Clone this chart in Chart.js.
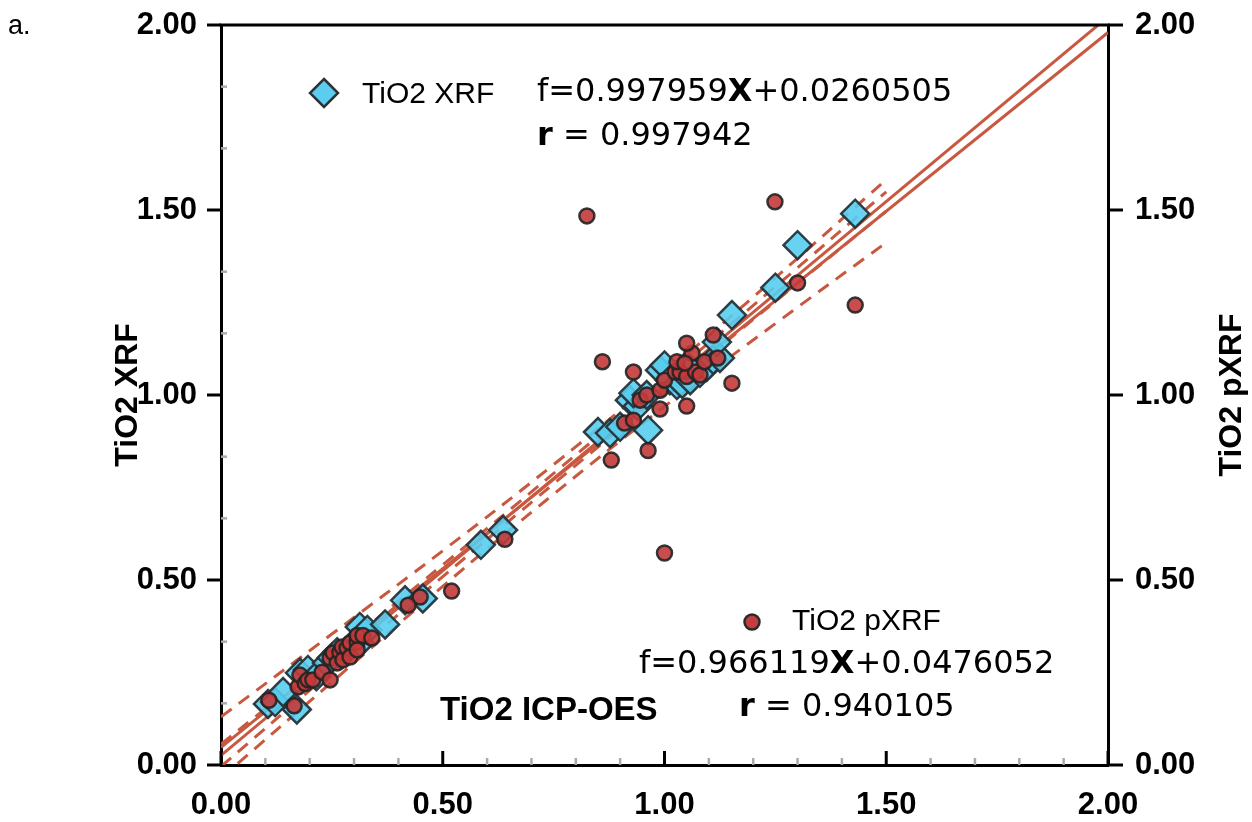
<!DOCTYPE html>
<html><head><meta charset="utf-8">
<script src="https://cdn.jsdelivr.net/npm/chart.js@4.4.1/dist/chart.umd.min.js"></script>
<style>html,body{margin:0;padding:0;background:#fff;}#wrap{width:1252px;height:822px;position:relative;}</style>
</head><body><div id="wrap"><canvas id="c" width="1252" height="822"></canvas></div>
<script>
// ---- data ----
const xrfIcp = [0.106,0.122,0.140,0.171,0.178,0.196,0.215,0.239,0.250,0.262,0.291,0.313,0.313,0.330,0.370,0.415,0.455,
  0.586,0.636,
  0.850,0.877,0.900,0.922,0.940,0.963,0.930,0.990,1.000,1.012,1.028,1.040,1.058,1.080,1.095,1.110,1.125,1.118,0.960,1.050,
  1.152,1.250,1.300,1.430];
const xrfVal = [0.165,0.170,0.197,0.150,0.249,0.257,0.240,0.276,0.290,0.305,0.319,0.330,0.373,0.365,0.380,0.445,0.450,
  0.595,0.635,
  0.900,0.897,0.914,0.986,0.970,0.905,1.005,1.067,1.080,1.040,1.027,1.030,1.040,1.060,1.076,1.095,1.100,1.143,1.000,1.080,
  1.216,1.290,1.405,1.490];
const pxrfIcp = [0.108,0.165,0.174,0.178,0.190,0.196,0.207,0.228,0.246,0.246,0.253,0.262,0.268,0.273,0.275,0.284,0.291,0.291,0.307,0.307,0.320,0.340,0.307,
  0.422,0.449,0.520,0.640,
  0.825,1.000,1.249,1.300,1.430,0.860,0.930,1.152,0.880,0.963,
  0.910,0.930,0.945,0.960,0.990,1.000,1.024,1.035,1.050,1.070,1.080,1.090,1.120,1.062,1.028,1.046,1.050,0.990,1.110,1.050];
const pxrfVal = [0.175,0.160,0.211,0.243,0.220,0.230,0.230,0.251,0.230,0.289,0.303,0.276,0.305,0.319,0.284,0.316,0.330,0.292,0.332,0.350,0.350,0.343,0.311,
  0.432,0.454,0.470,0.610,
  1.484,0.573,1.522,1.303,1.243,1.090,1.062,1.032,0.824,0.850,
  0.924,0.932,0.986,1.000,1.013,1.040,1.062,1.062,1.050,1.062,1.054,1.090,1.100,1.113,1.090,1.086,0.970,0.962,1.162,1.140];
// fitted lines (end points)
const fitX = [0, 2];
const fitXrf = [0.0261, 2.0220];
const fitPxrf = [0.0476, 1.9798];
// confidence bands (dashed)
const bandX = [0, 0.25, 0.5, 0.75, 1.0, 1.25, 1.5];
const outerUpper = [0.130, 0.354, 0.579, 0.812, 1.059, 1.317, 1.582];
const outerLower = [-0.035, 0.224, 0.483, 0.732, 0.969, 1.193, 1.412];
const innerUpper = [0.056, 0.297, 0.541, 0.788, 1.040, 1.293, 1.549];
const innerLower = [-0.004, 0.253, 0.509, 0.760, 1.008, 1.253, 1.497];
const majorTicks = [0, 0.5, 1.0, 1.5, 2.0];

const pts = (xs, ys) => xs.map((x, i) => ({x, y: ys[i]}));
const RED = 'rgb(200,88,64)';
const lineDs = (xs, ys, dashed) => ({type:'line', data: pts(xs, ys), borderColor: RED, borderWidth: 3,
  borderDash: dashed ? [13, 9] : [], pointRadius: 0, fill: false, tension: dashed ? 0.4 : 0, order: 5, showLine: true});

const tickFont = {family: "'Liberation Sans', Arial, sans-serif", size: 31, weight: 'bold'};

const decor = {
  id: 'decor',
  afterDraw(chart) {
    const ctx = chart.ctx, ca = chart.chartArea, xs = chart.scales.x, ys = chart.scales.y;
    ctx.save();
    const L = (x1, y1, x2, y2) => { ctx.beginPath(); ctx.moveTo(x1, y1); ctx.lineTo(x2, y2); ctx.stroke(); };
    ctx.strokeStyle = '#000'; ctx.lineWidth = 3; ctx.lineCap = 'butt';
    L(ca.left - 1.5, ca.top, ca.right + 1.5, ca.top);
    for (const v of majorTicks) {
      const y = ys.getPixelForValue(v);
      L(ca.left - 14, y, ca.left, y);
      L(ca.right, y, ca.right + 15, y);
      const x = xs.getPixelForValue(v);
      L(x, ca.bottom, x, ca.bottom - 14);
    }
    ctx.strokeStyle = '#aaa'; ctx.lineWidth = 2.5;
    for (let i = 1; i < 12; i++) {
      if (i % 3 === 0) continue;
      const y = ys.getPixelForValue(i / 6);
      L(ca.left, y, ca.left + 6, y);
    }
    for (let i = 1; i < 20; i++) {
      if (i % 5 === 0) continue;
      const x = xs.getPixelForValue(i / 10);
      L(x, ca.bottom, x, ca.bottom - 7);
    }
    // legend markers
    ctx.lineWidth = 2.5; ctx.strokeStyle = '#2b3336'; ctx.fillStyle = 'rgb(92,205,240)';
    const dx = 324, dy = 93, r = 14;
    ctx.beginPath(); ctx.moveTo(dx, dy - r); ctx.lineTo(dx + r, dy); ctx.lineTo(dx, dy + r); ctx.lineTo(dx - r, dy); ctx.closePath(); ctx.fill(); ctx.stroke();
    ctx.fillStyle = 'rgb(196,62,62)'; ctx.strokeStyle = '#2a2a2a';
    ctx.beginPath(); ctx.arc(752, 622, 7.5, 0, Math.PI * 2); ctx.fill(); ctx.stroke();
    // texts
    ctx.fillStyle = '#000'; ctx.textBaseline = 'middle'; ctx.textAlign = 'left';
    const runs = (x, y, parts) => { for (const [t, f] of parts) { ctx.font = f; ctx.fillText(t, x, y); x += ctx.measureText(t).width; } };
    const lab = "30px 'Liberation Sans', Arial, sans-serif";
    const eq = "32px 'DejaVu Sans', sans-serif";
    const eqB = "bold 32px 'DejaVu Sans', sans-serif";
    runs(362, 95, [['TiO2 XRF', lab]]);
    runs(537, 93, [['f=0.997959', eq], ['X', eqB], ['+0.0260505', eq]]);
    runs(537, 137, [['r', eqB], [' = 0.997942', eq]]);
    runs(792, 622, [['TiO2 pXRF', lab]]);
    runs(639, 665, [['f=0.966119', eq], ['X', eqB], ['+0.0476052', eq]]);
    runs(739, 708, [['r', eqB], [' = 0.940105', eq]]);
    runs(440, 711, [['TiO2 ICP-OES', "bold 33px 'Liberation Sans', Arial, sans-serif"]]);
    runs(8, 27, [['a.', "27px 'Liberation Sans', Arial, sans-serif"]]);
    // axis titles
    ctx.font = "bold 32px 'Liberation Sans', Arial, sans-serif"; ctx.textAlign = 'center';
    ctx.save(); ctx.translate(128, 395); ctx.rotate(-Math.PI / 2); ctx.fillText('TiO2 XRF', 0, 0); ctx.restore();
    ctx.save(); ctx.translate(1232, 395); ctx.rotate(-Math.PI / 2); ctx.fillText('TiO2 pXRF', 0, 0); ctx.restore();
    ctx.restore();
  }
};

const fixV = (w) => function (s) { s.width = w; s.paddingTop = 0; s.paddingBottom = 0; };

new Chart(document.getElementById('c'), {
  type: 'scatter',
  data: {
    datasets: [
      {label: 'TiO2 pXRF', data: pts(pxrfIcp, pxrfVal), pointStyle: 'circle', pointRadius: 7.5, pointBorderWidth: 2.5,
        backgroundColor: 'rgba(196,58,58,0.9)', borderColor: 'rgba(35,35,35,0.9)', order: 0},
      {label: 'TiO2 XRF', data: pts(xrfIcp, xrfVal), pointStyle: 'rectRot', pointRadius: 14, pointBorderWidth: 2.5,
        backgroundColor: 'rgba(88,205,240,0.9)', borderColor: 'rgba(38,52,58,0.95)', order: 1},
      lineDs(fitX, fitXrf, false),
      lineDs(fitX, fitPxrf, false),
      lineDs(bandX, outerUpper, true),
      lineDs(bandX, outerLower, true),
      lineDs(bandX, innerUpper, true),
      lineDs(bandX, innerLower, true)
    ]
  },
  options: {
    responsive: false, animation: false,
    layout: {padding: {top: 25, left: 0, right: 0, bottom: 0}},
    plugins: {legend: {display: false}, tooltip: {enabled: false}},
    scales: {
      x: {type: 'linear', position: 'bottom', min: 0, max: 2,
        grid: {display: false, drawTicks: false}, border: {display: true, color: '#000', width: 3},
        ticks: {stepSize: 0.5, callback: v => Number(v).toFixed(2), font: tickFont, color: '#000', padding: 22, maxRotation: 0, autoSkip: false},
        afterFit(s) { s.height = 57; }},
      y: {type: 'linear', position: 'left', min: 0, max: 2,
        grid: {display: false, drawTicks: false}, border: {display: true, color: '#000', width: 3},
        ticks: {stepSize: 0.5, callback: v => Number(v).toFixed(2), font: tickFont, color: '#000', padding: 24, autoSkip: false},
        afterFit: fixV(221)},
      y2: {type: 'linear', position: 'right', min: 0, max: 2,
        grid: {display: false, drawTicks: false}, border: {display: true, color: '#000', width: 3},
        ticks: {stepSize: 0.5, callback: v => Number(v).toFixed(2), font: tickFont, color: '#000', padding: 27, autoSkip: false},
        afterFit: fixV(144)}
    }
  },
  plugins: [decor]
});
</script></body></html>
